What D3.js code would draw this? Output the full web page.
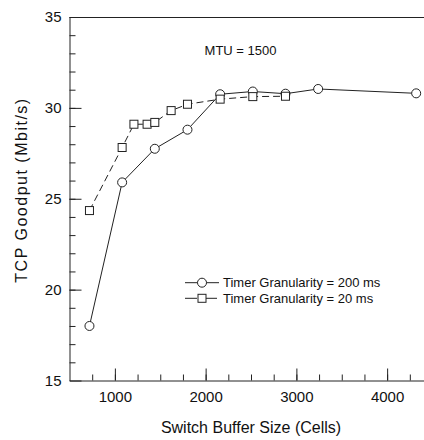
<!DOCTYPE html>
<html>
<head>
<meta charset="utf-8">
<script src="https://cdn.jsdelivr.net/npm/d3@7"></script>
<style>
  body { margin: 0; background: #fff; }
  svg { display: block; font-family: "Liberation Sans", Arial, sans-serif; }
</style>
</head>
<body>
<div id="chart"></div>
<script>
// Buffer sizes (cells) and goodput (Mbit/s) for the two timer settings
var bufCoarse = [720, 1080, 1440, 1800, 2160, 2520, 2880, 3240, 4320];
var goodputCoarse = [18.0, 25.9, 27.75, 28.8, 30.75, 30.9, 30.78, 31.04, 30.8];
var bufFine = [720, 1080, 1210, 1355, 1440, 1620, 1800, 2160, 2520, 2880];
var goodputFine = [24.35, 27.82, 29.1, 29.1, 29.2, 29.85, 30.2, 30.48, 30.62, 30.64];
var seriesNames = ["Timer Granularity = 200 ms", "Timer Granularity = 20 ms"];
var xTickValues = [1000, 2000, 3000, 4000];
var yTickValues = [15, 20, 25, 30, 35];

var width = 424, height = 440,
margin = {top: 17, left: 69.5},
plotRight = 432.5, plotBottom = 380.5,
ink = "#222";

var x = d3.scaleLinear().domain([500, 4500]).range([margin.left, plotRight]);
var y = d3.scaleLinear().domain([15, 35]).range([plotBottom, margin.top]);

var svg = d3.select("#chart").append("svg")
	.attr("width", width)
	.attr("height", height);

//Frame: top line, left + bottom axes (no right side)
svg.append("line")
	.attr("x1", margin.left).attr("x2", plotRight)
	.attr("y1", margin.top + 0.5).attr("y2", margin.top + 0.5)
	.style("stroke", ink);

//Minor ticks first, then major ticks with labels (ticks point inward)
var xMinor = svg.append("g").attr("transform", "translate(0," + plotBottom + ")")
	.call(d3.axisTop(x).tickValues(d3.range(750, 4500, 250)).tickSize(6).tickFormat(""));
var xAxis = svg.append("g").attr("transform", "translate(0," + plotBottom + ")")
	.call(d3.axisTop(x).tickValues(xTickValues).tickSize(12).tickSizeOuter(0).tickFormat(d3.format("d")));
xAxis.selectAll("text")
	.attr("y", 21)
	.style("font-size", "15px")
	.attr("fill", "#111");

var yMinor = svg.append("g").attr("transform", "translate(" + margin.left + ",0)")
	.call(d3.axisRight(y).tickValues(d3.range(16, 35, 1)).tickSize(6).tickFormat(""));
var yAxis = svg.append("g").attr("transform", "translate(" + margin.left + ",0)")
	.call(d3.axisRight(y).tickValues(yTickValues).tickSize(12).tickSizeOuter(0));
yAxis.selectAll("text")
	.attr("x", -8)
	.attr("text-anchor", "end")
	.style("font-size", "15px")
	.attr("fill", "#111");

[xMinor, xAxis, yMinor, yAxis].forEach(function(g) {
	g.selectAll("line, path").style("stroke", ink);
});
xMinor.select(".domain").remove();
yMinor.select(".domain").remove();

//Axis titles
svg.append("text")
	.attr("x", (margin.left + plotRight) / 2)
	.attr("y", 432.5)
	.attr("text-anchor", "middle")
	.style("font-size", "16px")
	.attr("fill", "#111")
	.text("Switch Buffer Size (Cells)");

svg.append("text")
	.attr("transform", "translate(26.5,190) rotate(-90)")
	.attr("text-anchor", "middle")
	.style("font-size", "16px")
	.style("letter-spacing", "1.5px")
	.attr("fill", "#111")
	.text("TCP Goodput (Mbit/s)");

svg.append("text")
	.attr("x", 240.5)
	.attr("y", 55)
	.attr("text-anchor", "middle")
	.style("font-size", "13px")
	.attr("fill", "#111")
	.text("MTU = 1500");

//Series lines
var coarse = bufCoarse.map(function(d, i) { return {x: d, y: goodputCoarse[i]}; });
var fine = bufFine.map(function(d, i) { return {x: d, y: goodputFine[i]}; });

var line = d3.line()
	.x(function(d) { return x(d.x); })
	.y(function(d) { return y(d.y); });

svg.append("path")
	.datum(coarse)
	.attr("d", line)
	.style("fill", "none")
	.style("stroke", ink)
	.style("stroke-width", 1);

svg.append("path")
	.datum(fine)
	.attr("d", line)
	.style("fill", "none")
	.style("stroke", ink)
	.style("stroke-width", 1)
	.style("stroke-dasharray", "7,4");

//Markers: circles, then squares on top
svg.selectAll(".dotCoarse")
	.data(coarse)
	.enter().append("circle")
	.attr("class", "dotCoarse")
	.attr("cx", function(d) { return x(d.x); })
	.attr("cy", function(d) { return y(d.y); })
	.attr("r", 4.5)
	.style("fill", "#fff")
	.style("stroke", ink);

svg.selectAll(".dotFine")
	.data(fine)
	.enter().append("rect")
	.attr("class", "dotFine")
	.attr("x", function(d) { return x(d.x) - 4; })
	.attr("y", function(d) { return y(d.y) - 4; })
	.attr("width", 8)
	.attr("height", 8)
	.style("fill", "#fff")
	.style("stroke", ink);

//Legend
var legend = svg.append("g").attr("transform", "translate(185,282.7)");
var rows = legend.selectAll("g")
	.data(seriesNames)
	.enter().append("g")
	.attr("transform", function(d, i) { return "translate(0," + (i * 15.6) + ")"; });

rows.append("line")
	.attr("x1", 0).attr("x2", 34)
	.style("stroke", ink)
	.style("stroke-dasharray", function(d, i) { return i ? "12,3,2,3" : null; });

rows.each(function(d, i) {
	var g = d3.select(this);
	if (i === 0) {
		g.append("circle").attr("cx", 17).attr("cy", 0).attr("r", 4.5)
			.style("fill", "#fff").style("stroke", ink);
	} else {
		g.append("rect").attr("x", 13).attr("y", -4).attr("width", 8).attr("height", 8)
			.style("fill", "#fff").style("stroke", ink);
	}
});

rows.append("text")
	.attr("x", 38)
	.attr("y", 4.7)
	.style("font-size", "13px")
	.attr("fill", "#111")
	.text(function(d) { return d; });
</script>
</body>
</html>
